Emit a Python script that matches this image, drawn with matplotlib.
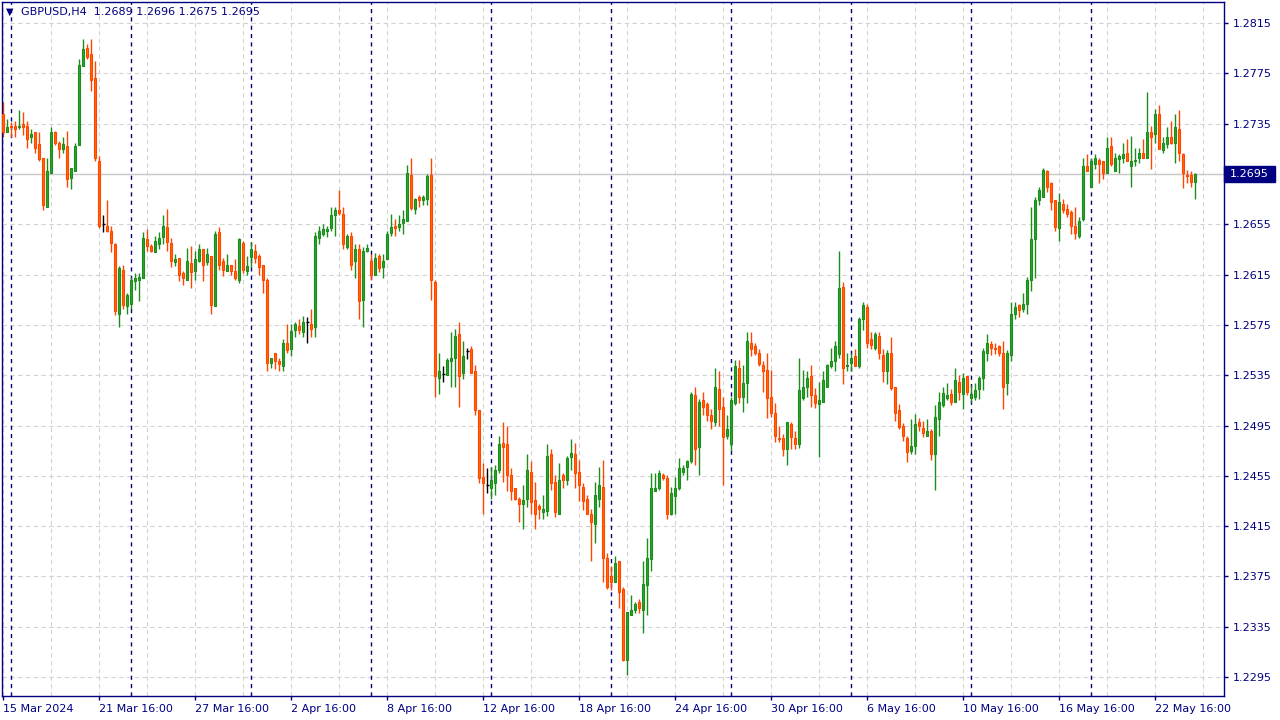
import numpy as np
import matplotlib
matplotlib.use('Agg')
import matplotlib.pyplot as plt
import matplotlib.transforms as mtransforms

### GBPUSD H4 bars (oldest first)
opens = [
    1.2743, 1.2728, 1.2733, 1.2733, 1.2732, 1.2735, 1.2733, 1.2724, 1.2728, 1.2719,
    1.2708, 1.2669, 1.2696, 1.2728, 1.2720, 1.2715, 1.2717, 1.2692, 1.2697, 1.2718,
    1.2781, 1.2795, 1.2790, 1.2771, 1.2705, 1.2655, 1.2654, 1.2650, 1.2639, 1.2584,
    1.2619, 1.2590, 1.2592, 1.2610, 1.2611, 1.2612, 1.2643, 1.2638, 1.2633, 1.2639,
    1.2645, 1.2653, 1.2640, 1.2625, 1.2628, 1.2616, 1.2611, 1.2624, 1.2618, 1.2626,
    1.2635, 1.2625, 1.2630, 1.2590, 1.2649, 1.2626, 1.2618, 1.2623, 1.2618, 1.2611,
    1.2640, 1.2618, 1.2629, 1.2634, 1.2630, 1.2623, 1.2611, 1.2545, 1.2553, 1.2546,
    1.2542, 1.2561, 1.2556, 1.2571, 1.2574, 1.2569, 1.2577, 1.2576, 1.2573, 1.2644,
    1.2647, 1.2650, 1.2652, 1.2662, 1.2666, 1.2663, 1.2637, 1.2646, 1.2626, 1.2635,
    1.2595, 1.2634, 1.2626, 1.2615, 1.2630, 1.2621, 1.2627, 1.2648, 1.2654, 1.2653,
    1.2656, 1.2658, 1.2694, 1.2667, 1.2677, 1.2674, 1.2675, 1.2694, 1.2609, 1.2533,
    1.2536, 1.2535, 1.2546, 1.2549, 1.2568, 1.2537, 1.2554, 1.2556, 1.2538, 1.2507,
    1.2454, 1.2448, 1.2445, 1.2449, 1.2460, 1.2481, 1.2480, 1.2456, 1.2445, 1.2437,
    1.2433, 1.2437, 1.2458, 1.2436, 1.2431, 1.2426, 1.2427, 1.2472, 1.2450, 1.2425,
    1.2456, 1.2452, 1.2470, 1.2472, 1.2458, 1.2446, 1.2437, 1.2425, 1.2417, 1.2437,
    1.2446, 1.2390, 1.2375, 1.2371, 1.2387, 1.2365, 1.2309, 1.2344, 1.2348, 1.2355,
    1.2348, 1.2368, 1.2389, 1.2443, 1.2445, 1.2456, 1.2453, 1.2425, 1.2439, 1.2445,
    1.2458, 1.2462, 1.2467, 1.2519, 1.2478, 1.2515, 1.2512, 1.2503, 1.2498, 1.2524,
    1.2510, 1.2487, 1.2480, 1.2513, 1.2541, 1.2518, 1.2529, 1.2561, 1.2558, 1.2553,
    1.2543, 1.2539, 1.2518, 1.2505, 1.2485, 1.2485, 1.2476, 1.2496, 1.2485, 1.2480,
    1.2517, 1.2526, 1.2534, 1.2519, 1.2512, 1.2514, 1.2526, 1.2542, 1.2546, 1.2552,
    1.2605, 1.2542, 1.2545, 1.2550, 1.2542, 1.2580, 1.2589, 1.2564, 1.2557, 1.2566,
    1.2551, 1.2538, 1.2553, 1.2526, 1.2507, 1.2495, 1.2485, 1.2475, 1.2479, 1.2498,
    1.2493, 1.2487, 1.2491, 1.2472, 1.2500, 1.2511, 1.2517, 1.2520, 1.2514, 1.2530,
    1.2520, 1.2534, 1.2517, 1.2518, 1.2524, 1.2533, 1.2553, 1.2560, 1.2557, 1.2558,
    1.2553, 1.2529, 1.2551, 1.2584, 1.2591, 1.2588, 1.2592, 1.2611, 1.2643, 1.2674,
    1.2677, 1.2697, 1.2688, 1.2674, 1.2652, 1.2671, 1.2667, 1.2665, 1.2654, 1.2646,
    1.2659, 1.2701, 1.2685, 1.2703, 1.2706, 1.2705, 1.2696, 1.2717, 1.2697, 1.2707,
    1.2708, 1.2712, 1.2701, 1.2705, 1.2708, 1.2712, 1.2708, 1.2728, 1.2727, 1.2743,
    1.2714, 1.2719, 1.2724, 1.2720, 1.2731, 1.2711, 1.2694, 1.2694, 1.2689]

highs = [
    1.2752, 1.2739, 1.2736, 1.2737, 1.2746, 1.2744, 1.2737, 1.2731, 1.2728, 1.2728,
    1.2708, 1.2708, 1.2732, 1.2729, 1.2721, 1.2724, 1.2729, 1.2700, 1.2720, 1.2786,
    1.2802, 1.2798, 1.2802, 1.2785, 1.2709, 1.2662, 1.2674, 1.2654, 1.2640, 1.2622,
    1.2623, 1.2600, 1.2613, 1.2616, 1.2616, 1.2649, 1.2651, 1.2639, 1.2646, 1.2649,
    1.2662, 1.2667, 1.2644, 1.2631, 1.2628, 1.2618, 1.2636, 1.2638, 1.2634, 1.2639,
    1.2635, 1.2636, 1.2630, 1.2650, 1.2653, 1.2628, 1.2631, 1.2623, 1.2627, 1.2644,
    1.2642, 1.2630, 1.2641, 1.2639, 1.2631, 1.2623, 1.2612, 1.2549, 1.2553, 1.2549,
    1.2564, 1.2576, 1.2576, 1.2577, 1.2580, 1.2582, 1.2581, 1.2588, 1.2649, 1.2654,
    1.2655, 1.2654, 1.2669, 1.2669, 1.2682, 1.2669, 1.2647, 1.2649, 1.2639, 1.2639,
    1.2637, 1.2639, 1.2631, 1.2632, 1.2631, 1.2631, 1.2650, 1.2663, 1.2659, 1.2662,
    1.2666, 1.2702, 1.2708, 1.2676, 1.2678, 1.2678, 1.2695, 1.2708, 1.2611, 1.2553,
    1.2542, 1.2549, 1.2569, 1.2572, 1.2577, 1.2562, 1.2557, 1.2558, 1.2543, 1.2507,
    1.2465, 1.2461, 1.2462, 1.2464, 1.2487, 1.2498, 1.2495, 1.2461, 1.2445, 1.2438,
    1.2448, 1.2472, 1.2467, 1.2450, 1.2433, 1.2440, 1.2480, 1.2476, 1.2456, 1.2465,
    1.2457, 1.2471, 1.2484, 1.2481, 1.2468, 1.2449, 1.2440, 1.2429, 1.2450, 1.2462,
    1.2468, 1.2394, 1.2383, 1.2391, 1.2387, 1.2367, 1.2347, 1.2360, 1.2355, 1.2357,
    1.2387, 1.2406, 1.2457, 1.2457, 1.2460, 1.2457, 1.2456, 1.2446, 1.2454, 1.2469,
    1.2464, 1.2468, 1.2522, 1.2526, 1.2516, 1.2522, 1.2514, 1.2508, 1.2541, 1.2538,
    1.2518, 1.2503, 1.2518, 1.2547, 1.2547, 1.2543, 1.2569, 1.2569, 1.2561, 1.2556,
    1.2546, 1.2553, 1.2539, 1.2513, 1.2495, 1.2488, 1.2498, 1.2498, 1.2491, 1.2549,
    1.2539, 1.2538, 1.2543, 1.2525, 1.2530, 1.2538, 1.2544, 1.2557, 1.2562, 1.2634,
    1.2609, 1.2553, 1.2553, 1.2556, 1.2581, 1.2593, 1.2592, 1.2569, 1.2569, 1.2569,
    1.2556, 1.2555, 1.2565, 1.2526, 1.2512, 1.2497, 1.2487, 1.2500, 1.2504, 1.2501,
    1.2499, 1.2500, 1.2492, 1.2511, 1.2522, 1.2526, 1.2529, 1.2524, 1.2541, 1.2535,
    1.2537, 1.2534, 1.2527, 1.2529, 1.2534, 1.2557, 1.2568, 1.2562, 1.2561, 1.2559,
    1.2562, 1.2555, 1.2593, 1.2593, 1.2592, 1.2600, 1.2613, 1.2669, 1.2677, 1.2685,
    1.2700, 1.2698, 1.2689, 1.2674, 1.2680, 1.2675, 1.2671, 1.2666, 1.2669, 1.2661,
    1.2708, 1.2711, 1.2708, 1.2711, 1.2708, 1.2705, 1.2724, 1.2724, 1.2712, 1.2711,
    1.2720, 1.2723, 1.2725, 1.2716, 1.2716, 1.2723, 1.2760, 1.2733, 1.2747, 1.2750,
    1.2724, 1.2732, 1.2737, 1.2743, 1.2746, 1.2712, 1.2698, 1.2697, 1.2696]

lows = [
    1.2724, 1.2728, 1.2724, 1.2724, 1.2731, 1.2726, 1.2716, 1.2720, 1.2712, 1.2705,
    1.2666, 1.2669, 1.2696, 1.2718, 1.2708, 1.2712, 1.2685, 1.2683, 1.2697, 1.2718,
    1.2781, 1.2786, 1.2761, 1.2705, 1.2652, 1.2649, 1.2649, 1.2633, 1.2583, 1.2573,
    1.2588, 1.2584, 1.2588, 1.2603, 1.2594, 1.2612, 1.2634, 1.2633, 1.2633, 1.2635,
    1.2639, 1.2634, 1.2621, 1.2622, 1.2610, 1.2607, 1.2611, 1.2604, 1.2611, 1.2625,
    1.2610, 1.2623, 1.2584, 1.2590, 1.2619, 1.2614, 1.2618, 1.2615, 1.2611, 1.2608,
    1.2616, 1.2615, 1.2621, 1.2624, 1.2615, 1.2600, 1.2538, 1.2541, 1.2540, 1.2538,
    1.2538, 1.2553, 1.2550, 1.2565, 1.2568, 1.2565, 1.2561, 1.2565, 1.2565, 1.2639,
    1.2646, 1.2645, 1.2650, 1.2646, 1.2662, 1.2635, 1.2635, 1.2619, 1.2612, 1.2580,
    1.2573, 1.2633, 1.2611, 1.2615, 1.2617, 1.2612, 1.2627, 1.2646, 1.2646, 1.2650,
    1.2647, 1.2658, 1.2666, 1.2663, 1.2669, 1.2670, 1.2670, 1.2595, 1.2518, 1.2520,
    1.2530, 1.2535, 1.2526, 1.2526, 1.2510, 1.2532, 1.2548, 1.2537, 1.2503, 1.2449,
    1.2425, 1.2441, 1.2437, 1.2440, 1.2457, 1.2450, 1.2443, 1.2436, 1.2436, 1.2418,
    1.2413, 1.2430, 1.2425, 1.2413, 1.2421, 1.2421, 1.2423, 1.2444, 1.2422, 1.2425,
    1.2445, 1.2448, 1.2460, 1.2445, 1.2435, 1.2428, 1.2425, 1.2387, 1.2402, 1.2430,
    1.2371, 1.2365, 1.2364, 1.2371, 1.2350, 1.2308, 1.2297, 1.2344, 1.2346, 1.2346,
    1.2330, 1.2344, 1.2379, 1.2443, 1.2444, 1.2452, 1.2421, 1.2424, 1.2425, 1.2444,
    1.2456, 1.2452, 1.2465, 1.2464, 1.2456, 1.2503, 1.2499, 1.2492, 1.2495, 1.2495,
    1.2448, 1.2484, 1.2475, 1.2511, 1.2513, 1.2506, 1.2513, 1.2550, 1.2551, 1.2542,
    1.2522, 1.2501, 1.2502, 1.2482, 1.2482, 1.2471, 1.2464, 1.2476, 1.2476, 1.2477,
    1.2515, 1.2518, 1.2510, 1.2509, 1.2470, 1.2514, 1.2526, 1.2541, 1.2538, 1.2549,
    1.2528, 1.2538, 1.2538, 1.2542, 1.2541, 1.2571, 1.2557, 1.2556, 1.2555, 1.2548,
    1.2530, 1.2528, 1.2523, 1.2499, 1.2492, 1.2483, 1.2466, 1.2472, 1.2472, 1.2491,
    1.2486, 1.2487, 1.2468, 1.2444, 1.2487, 1.2510, 1.2515, 1.2511, 1.2514, 1.2515,
    1.2508, 1.2519, 1.2514, 1.2515, 1.2516, 1.2523, 1.2546, 1.2551, 1.2552, 1.2550,
    1.2508, 1.2519, 1.2546, 1.2580, 1.2581, 1.2585, 1.2584, 1.2602, 1.2612, 1.2670,
    1.2677, 1.2681, 1.2666, 1.2650, 1.2642, 1.2664, 1.2661, 1.2647, 1.2643, 1.2644,
    1.2658, 1.2697, 1.2685, 1.2699, 1.2688, 1.2691, 1.2696, 1.2701, 1.2697, 1.2696,
    1.2704, 1.2705, 1.2685, 1.2701, 1.2704, 1.2708, 1.2708, 1.2699, 1.2720, 1.2715,
    1.2712, 1.2716, 1.2719, 1.2704, 1.2705, 1.2684, 1.2688, 1.2685, 1.2675]

closes = [
    1.2728, 1.2732, 1.2732, 1.2731, 1.2733, 1.2732, 1.2723, 1.2727, 1.2716, 1.2707,
    1.2670, 1.2697, 1.2728, 1.2720, 1.2715, 1.2719, 1.2691, 1.2700, 1.2717, 1.2782,
    1.2794, 1.2788, 1.2770, 1.2708, 1.2654, 1.2655, 1.2650, 1.2640, 1.2586, 1.2620,
    1.2591, 1.2599, 1.2611, 1.2612, 1.2613, 1.2644, 1.2638, 1.2634, 1.2642, 1.2644,
    1.2654, 1.2641, 1.2626, 1.2627, 1.2615, 1.2612, 1.2626, 1.2617, 1.2627, 1.2635,
    1.2623, 1.2631, 1.2591, 1.2647, 1.2623, 1.2619, 1.2623, 1.2618, 1.2612, 1.2643,
    1.2619, 1.2622, 1.2635, 1.2628, 1.2621, 1.2611, 1.2545, 1.2549, 1.2546, 1.2544,
    1.2561, 1.2555, 1.2570, 1.2576, 1.2571, 1.2577, 1.2577, 1.2572, 1.2646, 1.2650,
    1.2651, 1.2651, 1.2662, 1.2666, 1.2664, 1.2639, 1.2646, 1.2623, 1.2635, 1.2594,
    1.2634, 1.2636, 1.2615, 1.2628, 1.2620, 1.2626, 1.2647, 1.2653, 1.2652, 1.2655,
    1.2659, 1.2696, 1.2668, 1.2675, 1.2674, 1.2677, 1.2693, 1.2611, 1.2534, 1.2538,
    1.2536, 1.2547, 1.2549, 1.2566, 1.2534, 1.2550, 1.2554, 1.2537, 1.2507, 1.2453,
    1.2449, 1.2448, 1.2452, 1.2460, 1.2480, 1.2478, 1.2456, 1.2443, 1.2437, 1.2433,
    1.2436, 1.2460, 1.2434, 1.2425, 1.2429, 1.2429, 1.2471, 1.2449, 1.2426, 1.2452,
    1.2452, 1.2469, 1.2473, 1.2457, 1.2448, 1.2435, 1.2425, 1.2418, 1.2440, 1.2448,
    1.2390, 1.2367, 1.2371, 1.2386, 1.2363, 1.2309, 1.2347, 1.2348, 1.2353, 1.2350,
    1.2369, 1.2390, 1.2445, 1.2445, 1.2457, 1.2453, 1.2425, 1.2441, 1.2445, 1.2461,
    1.2461, 1.2467, 1.2520, 1.2476, 1.2514, 1.2510, 1.2503, 1.2499, 1.2526, 1.2508,
    1.2486, 1.2492, 1.2515, 1.2542, 1.2518, 1.2529, 1.2562, 1.2556, 1.2553, 1.2544,
    1.2538, 1.2517, 1.2505, 1.2487, 1.2484, 1.2476, 1.2498, 1.2486, 1.2480, 1.2523,
    1.2526, 1.2533, 1.2519, 1.2513, 1.2515, 1.2531, 1.2543, 1.2546, 1.2558, 1.2604,
    1.2541, 1.2543, 1.2549, 1.2542, 1.2580, 1.2591, 1.2561, 1.2559, 1.2568, 1.2553,
    1.2538, 1.2553, 1.2525, 1.2505, 1.2494, 1.2487, 1.2474, 1.2479, 1.2496, 1.2495,
    1.2489, 1.2491, 1.2472, 1.2502, 1.2514, 1.2521, 1.2519, 1.2514, 1.2531, 1.2522,
    1.2533, 1.2522, 1.2520, 1.2523, 1.2533, 1.2554, 1.2561, 1.2557, 1.2556, 1.2553,
    1.2526, 1.2553, 1.2584, 1.2589, 1.2587, 1.2592, 1.2611, 1.2643, 1.2674, 1.2682,
    1.2698, 1.2685, 1.2673, 1.2653, 1.2673, 1.2666, 1.2663, 1.2654, 1.2648, 1.2658,
    1.2701, 1.2697, 1.2705, 1.2708, 1.2703, 1.2696, 1.2716, 1.2703, 1.2708, 1.2709,
    1.2711, 1.2705, 1.2705, 1.2706, 1.2712, 1.2708, 1.2728, 1.2724, 1.2743, 1.2715,
    1.2720, 1.2724, 1.2720, 1.2732, 1.2712, 1.2696, 1.2693, 1.2689, 1.2695]

symbol = 'GBPUSD,H4'
price_ticks = [1.2295, 1.2335, 1.2375, 1.2415, 1.2455, 1.2495, 1.2535,
               1.2575, 1.2615, 1.2655, 1.2695, 1.2735, 1.2775, 1.2815]
time_labels = ['15 Mar 2024', '21 Mar 16:00', '27 Mar 16:00', '2 Apr 16:00',
               '8 Apr 16:00', '12 Apr 16:00', '18 Apr 16:00', '24 Apr 16:00',
               '30 Apr 16:00', '6 May 16:00', '10 May 16:00', '16 May 16:00',
               '22 May 16:00']
label_bars = [0, 24, 48, 72, 96, 120, 144, 168, 192, 216, 240, 264, 288]
week_start_bars = [2, 32, 62, 92, 122, 152, 182, 212, 242, 272]

### colours
NAVY = '#000080'
BULL_FACE, BULL_EDGE = '#2AA52A', '#1C8C1C'
BEAR_FACE, BEAR_EDGE = '#FF6A00', '#FF4500'
GRID = '#D3D3D3'

O = np.array(opens)
H = np.array(highs)
L = np.array(lows)
C = np.array(closes)
n = len(O)
x = np.arange(n)

fig = plt.figure(figsize=(12.8, 7.2), dpi=100)
fig.patch.set_facecolor('white')
ax = fig.add_axes([2/1280, 24/720, 1222/1280, 694/720])
ax.set_facecolor('white')

ax.set_xlim(-0.325, 305.175)
ax.set_ylim(1.22800, 1.28317)

# light grid, every 12 bars and on every price tick
for gx in range(0, 306, 12):
    ax.axvline(gx, color=GRID, lw=0.8, ls=(0, (4, 3)), zorder=0)
for p in price_ticks:
    ax.axhline(p, color=GRID, lw=0.8, ls=(0, (4, 3)), zorder=0)

# weekly period separators
for b in week_start_bars:
    ax.axvline(b, color=NAVY, lw=1.0, ls=(0, (3, 3)), zorder=1)

# current price line
ax.axhline(C[-1], color='#C8C8C8', lw=1.0, zorder=1)

up = C > O
down = C < O
flat = C == O

wick_cols = np.where(up, BULL_EDGE, np.where(down, BEAR_EDGE, 'black'))
ax.vlines(x, L, H, colors=wick_cols, lw=1.0, zorder=2)

body_w = 0.55
bottoms = np.minimum(O, C)
heights = np.abs(C - O)
ax.bar(x[up], heights[up], bottom=bottoms[up], width=body_w,
       color=BULL_FACE, edgecolor=BULL_EDGE, lw=0.8, zorder=3)
ax.bar(x[down], heights[down], bottom=bottoms[down], width=body_w,
       color=BEAR_FACE, edgecolor=BEAR_EDGE, lw=0.8, zorder=3)
ax.hlines(O[flat], x[flat] - 0.4, x[flat] + 0.4, colors='black', lw=1.0, zorder=3)

# axes frame and ticks
for s in ax.spines.values():
    s.set_color(NAVY)
    s.set_linewidth(1.0)

ax.yaxis.tick_right()
ax.set_yticks(price_ticks)
# the current-price tag sits on top of its own tick label
ax.set_yticklabels(['' if abs(p - C[-1]) < 1e-6 else '%.4f' % p for p in price_ticks])
ax.tick_params(axis='y', colors=NAVY, labelcolor=NAVY, length=3, width=1,
               pad=3, labelsize=8)
ax.set_xticks(label_bars)
ax.set_xticklabels(time_labels, ha='left')
ax.tick_params(axis='x', colors=NAVY, labelcolor=NAVY, length=3, width=1,
               pad=3, labelsize=8)

# current price tag on the right axis
trans = mtransforms.blended_transform_factory(ax.transAxes, ax.transData)
px = 0.0000795   # price per pixel
tag = plt.Rectangle((1.0, C[-1] - 8 * px), 51 / 1222, 16 * px, transform=trans,
                    facecolor=NAVY, edgecolor=NAVY, clip_on=False, zorder=9)
ax.add_patch(tag)
ax.text(1.0 + 6 / 1222, C[-1], '%.4f' % C[-1], transform=trans, color='white',
        fontsize=8, va='center', ha='left', clip_on=False, zorder=10)

# header
fig.text(6/1280, 1 - 12/720, '\u25bc', color=NAVY, fontsize=7, va='center', ha='left')
fig.text(21/1280, 1 - 12/720,
         '%s  %.4f %.4f %.4f %.4f' % (symbol, O[-1], H[-1], L[-1], C[-1]),
         color=NAVY, fontsize=8, va='center', ha='left')

plt.savefig('out.png', dpi=100, facecolor='white')
